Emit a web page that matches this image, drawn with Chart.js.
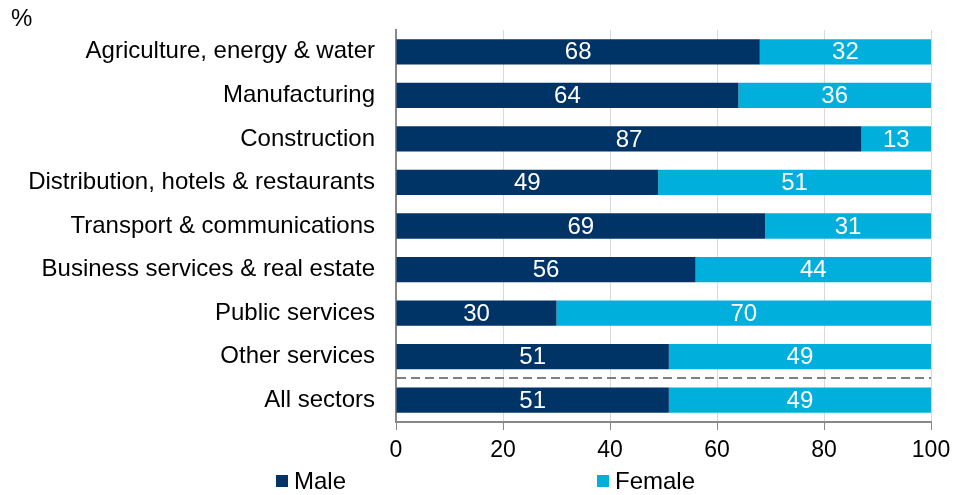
<!DOCTYPE html>
<html>
<head>
<meta charset="utf-8">
<style>
  html, body { margin: 0; padding: 0; background: #ffffff; }
  #wrap { position: relative; width: 961px; height: 495px; }
</style>
<script src="https://cdn.jsdelivr.net/npm/chart.js@4/dist/chart.umd.min.js"></script>
</head>
<body>
<div id="wrap"><canvas id="chart" width="961" height="495"></canvas></div>
<script>
// Employment by sector, split by sex (%)
const sectors = [
  'Agriculture, energy & water',
  'Manufacturing',
  'Construction',
  'Distribution, hotels & restaurants',
  'Transport & communications',
  'Business services & real estate',
  'Public services',
  'Other services',
  'All sectors'
];
const male   = [68, 64, 87, 49, 69, 56, 30, 51, 51];
const female = [32, 36, 13, 51, 31, 44, 70, 49, 49];
const xTicks = [0, 20, 40, 60, 80, 100];
const seriesNames = ['Male', 'Female'];

const MALE_COLOR = '#003366';
const FEMALE_COLOR = '#00afdb';
const FONT = '"Liberation Sans", Arial, sans-serif';

// Values written inside bars, dashed separator before the total row,
// unit label and the legend beneath the axis
const extras = {
  id: 'extras',
  afterDatasetsDraw(chart) {
    const ctx = chart.ctx;
    ctx.save();
    ctx.font = '24px ' + FONT;
    ctx.fillStyle = '#ffffff';
    ctx.textAlign = 'center';
    ctx.textBaseline = 'middle';
    chart.data.datasets.forEach((ds, di) => {
      chart.getDatasetMeta(di).data.forEach((bar, i) => {
        const left = Math.min(bar.x, bar.base);
        const right = Math.max(bar.x, bar.base);
        ctx.fillText(String(ds.data[i]), (left + right) / 2, bar.y + 1);
      });
    });

    // separator between the sector rows and the total
    const y = Math.round(chart.scales.y.getPixelForValue(sectors.length - 1.5));
    const area = chart.chartArea;
    ctx.strokeStyle = '#7f7f7f';
    ctx.lineWidth = 2;
    ctx.setLineDash([9, 5]);
    ctx.beginPath();
    ctx.moveTo(area.left + 1, y);
    ctx.lineTo(area.right, y);
    ctx.stroke();
    ctx.restore();
  },
  afterDraw(chart) {
    const ctx = chart.ctx;
    ctx.save();
    ctx.font = '24px ' + FONT;
    ctx.fillStyle = '#000000';
    ctx.textBaseline = 'middle';
    ctx.textAlign = 'left';
    ctx.fillText('%', 11, 19);

    // legend
    const items = [
      { label: seriesNames[0], color: MALE_COLOR, x: 276 },
      { label: seriesNames[1], color: FEMALE_COLOR, x: 597 }
    ];
    items.forEach(it => {
      ctx.fillStyle = it.color;
      ctx.fillRect(it.x, 475, 12, 12);
      ctx.fillStyle = '#000000';
      ctx.fillText(it.label, it.x + 18, 482);
    });
    ctx.restore();
  }
};

new Chart(document.getElementById('chart'), {
  type: 'bar',
  data: {
    labels: sectors,
    datasets: [
      { label: seriesNames[0], data: male, backgroundColor: MALE_COLOR },
      { label: seriesNames[1], data: female, backgroundColor: FEMALE_COLOR }
    ]
  },
  plugins: [extras],
  options: {
    indexAxis: 'y',
    responsive: false,
    animation: false,
    devicePixelRatio: 1,
    layout: { padding: { top: 30, right: 30, bottom: 0, left: 0 } },
    datasets: {
      bar: { categoryPercentage: 1, barPercentage: 0.58, borderWidth: 0 }
    },
    plugins: {
      legend: { display: false },
      tooltip: { enabled: false }
    },
    scales: {
      x: {
        stacked: true,
        min: 0,
        max: 100,
        afterBuildTicks(scale) {
          scale.ticks = xTicks.map(v => ({ value: v }));
        },
        afterFit(scale) { scale.height = 73; },
        grid: {
          color: '#d9d9d9',
          lineWidth: 1,
          drawTicks: true,
          tickLength: 8,
          tickColor: '#888888'
        },
        border: { display: true, color: '#888888', width: 2 },
        ticks: {
          color: '#000000',
          font: { family: FONT, size: 23 },
          padding: 7,
          maxRotation: 0
        }
      },
      y: {
        stacked: true,
        afterFit(scale) {
          scale.width = 396;
          scale.paddingTop = 0;
          scale.paddingBottom = 0;
        },
        grid: { display: true, drawOnChartArea: false, drawTicks: false },
        border: { display: true, color: '#888888', width: 2 },
        ticks: {
          color: '#000000',
          font: { family: FONT, size: 24 },
          padding: 21
        }
      }
    }
  }
});
</script>
</body>
</html>
